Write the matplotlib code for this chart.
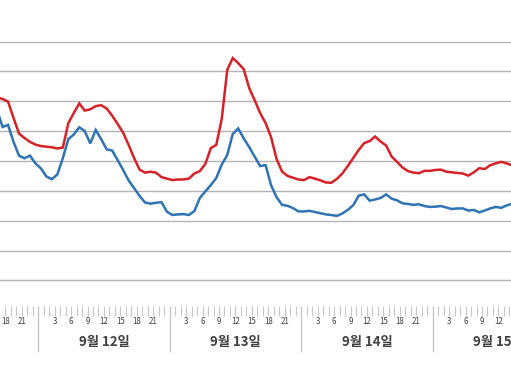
import numpy as np
import matplotlib
matplotlib.use("Agg")
import matplotlib.pyplot as plt

plt.rcParams['font.family'] = ['Noto Sans CJK KR', 'DejaVu Sans']

# hourly readings, 9/11 17h .. 9/15 15h
days = [11, 12, 13, 14, 15]
day_labels = ['9월 11일', '9월 12일', '9월 13일', '9월 14일', '9월 15일']
hour_labels = [3, 6, 9, 12, 15, 18, 21]

red = [
    # 9/11 17-24
    61.3, 60.8, 59.9, 54.4, 49.2, 47.7, 46.4, 45.5,
    # 9/12
    45.0, 44.8, 44.6, 44.2, 44.5, 52.7, 56.1, 59.3, 56.9, 57.3, 58.4, 58.7,
    57.6, 55.2, 52.4, 49.5, 45.4, 41.0, 37.1, 36.1, 36.4, 36.1, 34.6, 34.1,
    # 9/13
    33.6, 33.8, 33.8, 34.1, 35.8, 36.6, 39.0, 44.3, 45.4, 54.1, 70.5, 74.5,
    72.8, 70.8, 64.5, 60.4, 56.1, 52.7, 48.0, 40.7, 36.5, 35.0, 34.4, 33.8,
    # 9/14
    33.6, 34.6, 34.1, 33.5, 32.8, 32.7, 34.0, 35.8, 38.3, 41.0, 43.7, 46.0,
    46.7, 48.2, 46.5, 45.2, 41.5, 39.7, 37.8, 36.6, 36.1, 35.9, 36.7, 36.7,
    # 9/15 1-15
    37.0, 37.1, 36.4, 36.2, 36.0, 35.8, 35.1, 36.2, 37.6, 37.3, 38.6, 39.2,
    39.7, 39.2, 38.5,
]

blue = [
    57.1, 51.4, 52.1, 46.4, 41.8, 40.9, 41.8, 39.2,
    37.5, 34.8, 33.9, 35.5, 41.0, 47.3, 48.9, 51.3, 50.0, 45.9, 50.4, 47.3,
    43.9, 43.5, 40.3, 37.0, 33.5, 30.9, 28.3, 26.1, 25.7, 26.0, 26.2, 23.0,
    21.9, 22.1, 22.2, 21.9, 23.2, 27.6, 29.8, 31.9, 34.3, 38.8, 42.0, 49.0,
    50.9, 47.6, 44.7, 41.5, 38.3, 38.6, 31.9, 27.9, 25.3, 25.0, 24.2, 23.1,
    23.1, 23.3, 22.9, 22.5, 22.1, 21.9, 21.6, 22.4, 23.6, 25.2, 28.4, 28.8,
    26.7, 27.1, 27.6, 28.8, 27.4, 26.8, 25.8, 25.6, 25.3, 25.5, 24.9, 24.6,
    24.7, 24.9, 24.4, 23.9, 24.1, 24.1, 23.4, 23.6, 22.8, 23.4, 24.1, 24.6,
    24.3, 25.1, 25.7,
]

# hours since 9/11 00:00, points centred in each hourly slot
t = np.arange(17, 17 + len(red)) - 0.5
x_lo, x_hi = 17.03, 110.29

fig = plt.figure(figsize=(5.11, 3.80), dpi=100)
ax = fig.add_axes([0, 74 / 380, 1, 306 / 380])

ax.plot(t, blue, color='#2e74b5', lw=1.8, solid_joinstyle='miter')
ax.plot(t, red, color='#d62126', lw=1.8, solid_joinstyle='miter')

ax.set_yticks(range(0, 81, 10))
ax.yaxis.grid(True, color='#b4b4b4', lw=1.0)
ax.set_axisbelow(True)
ax.tick_params(axis='y', left=False, labelleft=False)

for sp in ax.spines.values():
    sp.set_visible(False)

ax.set_xticks([24 * k for k in range(5)])
ax.set_xticks(np.arange(0, 121), minor=True)
ax.tick_params(axis='x', which='major', length=33, width=0.9,
               color='#c4c4c4', labelbottom=False)
ax.tick_params(axis='x', which='minor', length=7, width=0.8,
               color='#c8c8c8', labelbottom=False)

ax.set_xlim(x_lo, x_hi)
ax.set_ylim(-8.6, 93.96)

for i, d in enumerate(days):
    base = (d - 11) * 24
    for h in hour_labels:
        pos = base + h
        if pos < x_lo or pos > x_hi + 1:
            continue
        ax.annotate(str(h), xy=(pos, 0), xycoords=('data', 'axes fraction'),
                    xytext=(0, -11.5), textcoords='offset points',
                    ha='center', va='center', fontsize=5.7, color='#404040',
                    annotation_clip=False)
    if base + 12 < x_lo:
        continue
    ax.annotate(day_labels[i], xy=(base + 12, 0), xycoords=('data', 'axes fraction'),
                xytext=(0, -26), textcoords='offset points',
                ha='center', va='center', fontsize=9.5, fontweight='bold',
                color='#404040', annotation_clip=False)

fig.savefig('out.png', dpi=100)
